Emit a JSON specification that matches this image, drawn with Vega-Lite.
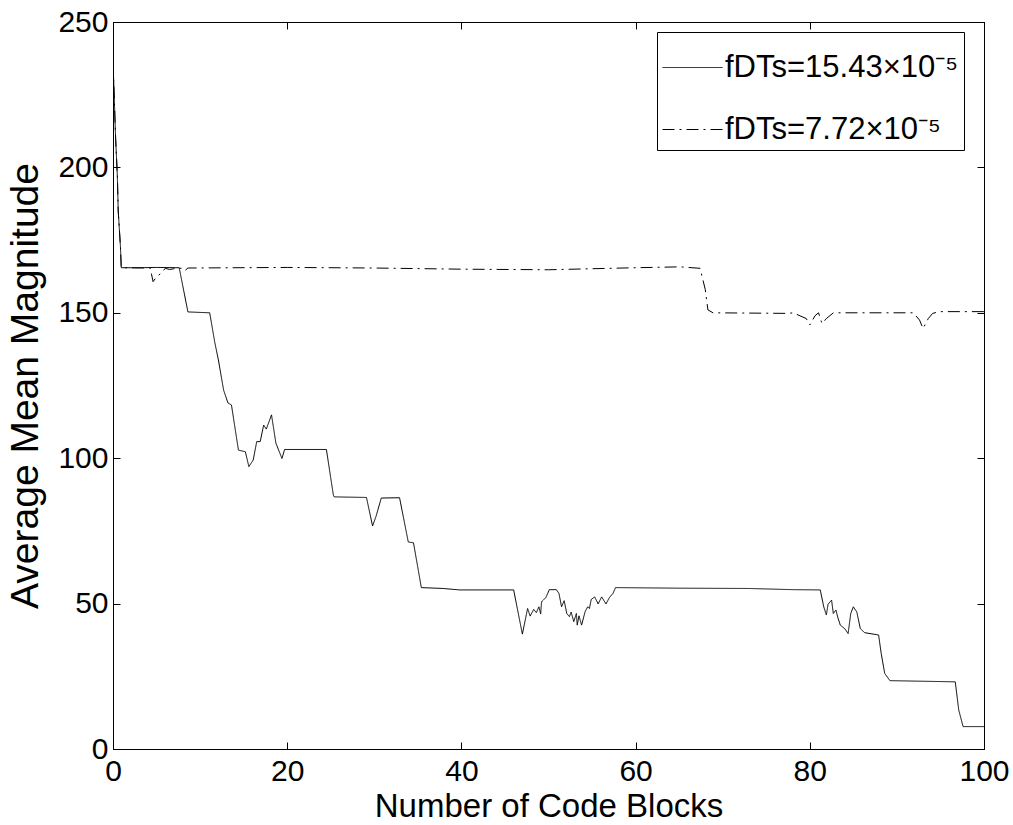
{
  "$schema": "https://vega.github.io/schema/vega-lite/v6.json",
  "width": 871,
  "height": 727,
  "autosize": {"type": "none"},
  "padding": {"left": 113, "top": 22, "right": 29, "bottom": 76},
  "background": "white",
  "config": {
    "view": {"stroke": "black", "strokeWidth": 1},
    "font": "Liberation Sans",
    "axis": {
      "grid": false,
      "domainColor": "black",
      "tickColor": "black",
      "labelColor": "black",
      "titleColor": "black",
      "labelFont": "Liberation Sans",
      "titleFont": "Liberation Sans",
      "labelFontSize": 30,
      "titleFontSize": 33,
      "titleFontWeight": "normal",
      "tickSize": -7
    }
  },
  "datasets": {
    "curves": [
      {"x": 0, "y": 236, "s": "A"}, {"x": 0.1, "y": 228, "s": "A"}, {"x": 0.3, "y": 210, "s": "A"}, {"x": 0.5, "y": 197, "s": "A"}, {"x": 0.6, "y": 185, "s": "A"}, {"x": 0.85, "y": 173, "s": "A"}, {"x": 0.95, "y": 165.5, "s": "A"}, {"x": 3, "y": 165.5, "s": "A"}, {"x": 5, "y": 165.6, "s": "A"}, {"x": 7.6, "y": 165.5, "s": "A"}, {"x": 8.6, "y": 150.3, "s": "A"}, {"x": 11.1, "y": 150, "s": "A"}, {"x": 11.7, "y": 139.6, "s": "A"}, {"x": 12.1, "y": 133.8, "s": "A"}, {"x": 12.7, "y": 123.4, "s": "A"}, {"x": 13.2, "y": 119, "s": "A"}, {"x": 13.6, "y": 118.3, "s": "A"}, {"x": 14.4, "y": 102.8, "s": "A"}, {"x": 15.2, "y": 102.2, "s": "A"}, {"x": 15.6, "y": 97.1, "s": "A"}, {"x": 16.1, "y": 99.4, "s": "A"}, {"x": 16.5, "y": 105.7, "s": "A"}, {"x": 16.9, "y": 105.7, "s": "A"}, {"x": 17.3, "y": 111.4, "s": "A"}, {"x": 17.6, "y": 110, "s": "A"}, {"x": 18.2, "y": 114.9, "s": "A"}, {"x": 18.7, "y": 105.2, "s": "A"}, {"x": 19.4, "y": 99.9, "s": "A"}, {"x": 19.7, "y": 103, "s": "A"}, {"x": 24.5, "y": 103, "s": "A"}, {"x": 25.3, "y": 87.3, "s": "A"}, {"x": 25.4, "y": 86.7, "s": "A"}, {"x": 29.1, "y": 86.5, "s": "A"}, {"x": 29.8, "y": 76.7, "s": "A"}, {"x": 30.2, "y": 80, "s": "A"}, {"x": 30.8, "y": 86.3, "s": "A"}, {"x": 32.9, "y": 86.4, "s": "A"}, {"x": 33.9, "y": 71.2, "s": "A"}, {"x": 34.5, "y": 70.9, "s": "A"}, {"x": 35.4, "y": 55.5, "s": "A"}, {"x": 37.9, "y": 55.2, "s": "A"}, {"x": 39.8, "y": 54.7, "s": "A"}, {"x": 46, "y": 54.7, "s": "A"}, {"x": 47.0, "y": 39.5, "s": "A"}, {"x": 47.6, "y": 48.3, "s": "A"}, {"x": 47.9, "y": 45.7, "s": "A"}, {"x": 48.3, "y": 48, "s": "A"}, {"x": 48.6, "y": 46.9, "s": "A"}, {"x": 48.9, "y": 48.9, "s": "A"}, {"x": 49.1, "y": 46.4, "s": "A"}, {"x": 49.2, "y": 50.6, "s": "A"}, {"x": 49.7, "y": 52.1, "s": "A"}, {"x": 50.1, "y": 54.8, "s": "A"}, {"x": 50.9, "y": 54.8, "s": "A"}, {"x": 51.2, "y": 53.5, "s": "A"}, {"x": 51.5, "y": 48.9, "s": "A"}, {"x": 51.8, "y": 51, "s": "A"}, {"x": 52.1, "y": 46.6, "s": "A"}, {"x": 52.4, "y": 45.5, "s": "A"}, {"x": 52.6, "y": 47.1, "s": "A"}, {"x": 52.9, "y": 43.8, "s": "A"}, {"x": 53.2, "y": 46.6, "s": "A"}, {"x": 53.3, "y": 42.6, "s": "A"}, {"x": 53.5, "y": 45.8, "s": "A"}, {"x": 53.8, "y": 42.6, "s": "A"}, {"x": 54.2, "y": 47.2, "s": "A"}, {"x": 54.5, "y": 48.9, "s": "A"}, {"x": 54.7, "y": 48.3, "s": "A"}, {"x": 54.9, "y": 51.4, "s": "A"}, {"x": 55.3, "y": 52.3, "s": "A"}, {"x": 55.7, "y": 49.9, "s": "A"}, {"x": 56.1, "y": 52.3, "s": "A"}, {"x": 56.6, "y": 49.9, "s": "A"}, {"x": 57.0, "y": 52.1, "s": "A"}, {"x": 57.4, "y": 53.5, "s": "A"}, {"x": 57.7, "y": 55.5, "s": "A"}, {"x": 65, "y": 55.3, "s": "A"}, {"x": 73, "y": 55.2, "s": "A"}, {"x": 78, "y": 54.8, "s": "A"}, {"x": 81.2, "y": 54.7, "s": "A"}, {"x": 81.6, "y": 48.9, "s": "A"}, {"x": 81.9, "y": 46.1, "s": "A"}, {"x": 82.1, "y": 49.8, "s": "A"}, {"x": 82.5, "y": 51.2, "s": "A"}, {"x": 82.7, "y": 46.6, "s": "A"}, {"x": 83.0, "y": 47.8, "s": "A"}, {"x": 83.2, "y": 45.4, "s": "A"}, {"x": 83.5, "y": 42.6, "s": "A"}, {"x": 84.0, "y": 41.4, "s": "A"}, {"x": 84.4, "y": 39.7, "s": "A"}, {"x": 84.7, "y": 46.6, "s": "A"}, {"x": 85.0, "y": 48.9, "s": "A"}, {"x": 85.4, "y": 47.1, "s": "A"}, {"x": 85.8, "y": 41.4, "s": "A"}, {"x": 86.3, "y": 40, "s": "A"}, {"x": 87.9, "y": 39.2, "s": "A"}, {"x": 88.2, "y": 32.8, "s": "A"}, {"x": 88.6, "y": 26, "s": "A"}, {"x": 89.2, "y": 23.5, "s": "A"}, {"x": 96.7, "y": 23.1, "s": "A"}, {"x": 97.1, "y": 13.4, "s": "A"}, {"x": 97.6, "y": 7.7, "s": "A"}, {"x": 100, "y": 7.7, "s": "A"},
      {"x": 0, "y": 236, "s": "B"}, {"x": 0.1, "y": 228, "s": "B"}, {"x": 0.3, "y": 210, "s": "B"}, {"x": 0.5, "y": 197, "s": "B"}, {"x": 0.6, "y": 185, "s": "B"}, {"x": 0.85, "y": 173, "s": "B"}, {"x": 0.95, "y": 165.5, "s": "B"}, {"x": 4.3, "y": 165.4, "s": "B"}, {"x": 4.4, "y": 163.6, "s": "B"}, {"x": 4.6, "y": 160.7, "s": "B"}, {"x": 5.0, "y": 162.4, "s": "B"}, {"x": 5.6, "y": 163.8, "s": "B"}, {"x": 6.0, "y": 165.3, "s": "B"}, {"x": 6.5, "y": 164.9, "s": "B"}, {"x": 7.3, "y": 165.3, "s": "B"}, {"x": 8.1, "y": 165.3, "s": "B"}, {"x": 8.3, "y": 164.6, "s": "B"}, {"x": 8.6, "y": 165.4, "s": "B"}, {"x": 20, "y": 165.6, "s": "B"}, {"x": 30, "y": 165.4, "s": "B"}, {"x": 40, "y": 165, "s": "B"}, {"x": 50, "y": 164.8, "s": "B"}, {"x": 60, "y": 165.5, "s": "B"}, {"x": 65.1, "y": 165.8, "s": "B"}, {"x": 67.4, "y": 165.3, "s": "B"}, {"x": 68, "y": 158, "s": "B"}, {"x": 68.3, "y": 151, "s": "B"}, {"x": 68.9, "y": 150, "s": "B"}, {"x": 77.5, "y": 149.8, "s": "B"}, {"x": 78.1, "y": 150, "s": "B"}, {"x": 79.6, "y": 148, "s": "B"}, {"x": 80.0, "y": 145.8, "s": "B"}, {"x": 80.6, "y": 149, "s": "B"}, {"x": 81.0, "y": 150, "s": "B"}, {"x": 81.4, "y": 146.3, "s": "B"}, {"x": 81.9, "y": 148, "s": "B"}, {"x": 82.7, "y": 150, "s": "B"}, {"x": 91.9, "y": 150, "s": "B"}, {"x": 92.6, "y": 147.5, "s": "B"}, {"x": 93.0, "y": 144.6, "s": "B"}, {"x": 93.6, "y": 148, "s": "B"}, {"x": 94.1, "y": 149.8, "s": "B"}, {"x": 94.9, "y": 150.4, "s": "B"}, {"x": 100, "y": 150.4, "s": "B"}
    ]
  },
  "data": {"name": "curves"},
  "transform": [
    {"calculate": "datum.s === 'A' ? 'fDTs=15.43×10⁻⁵' : 'fDTs=7.72×10⁻⁵'", "as": "series"}
  ],
  "layer": [
    {
      "mark": {"type": "line", "color": "black", "strokeWidth": 1, "clip": true},
      "encoding": {
        "x": {"field": "x", "type": "quantitative", "scale": {"domain": [0, 100], "nice": false},
              "axis": {"orient": "bottom", "values": [0, 20, 40, 60, 80, 100], "title": "Number of Code Blocks", "labelPadding": 14, "titlePadding": 4, "labelFlush": false}},
        "y": {"field": "y", "type": "quantitative", "scale": {"domain": [0, 250], "nice": false},
              "axis": {"orient": "left", "values": [0, 50, 100, 150, 200, 250], "title": "Average Mean Magnitude", "titleFontSize": 39, "labelPadding": 12, "titlePadding": 12, "labelFlush": false}},
        "strokeDash": {"field": "series", "type": "nominal",
          "scale": {"domain": ["fDTs=15.43×10⁻⁵", "fDTs=7.72×10⁻⁵"], "range": [[1, 0], [12, 5, 2, 5]]},
          "legend": {"title": null, "orient": "none", "legendX": 544, "legendY": 10,
            "symbolType": "stroke", "symbolSize": 3600, "symbolStrokeWidth": 1, "symbolStrokeColor": "black",
            "labelFontSize": 31, "labelFont": "Liberation Sans", "labelColor": "black", "labelOffset": 2,
            "strokeColor": "black", "fillColor": "white", "padding": 5, "rowPadding": 16, "labelLimit": 400}},
        "detail": {"field": "s"}
      }
    },
    {
      "mark": {"type": "line", "strokeOpacity": 0},
      "encoding": {
        "x": {"field": "x", "type": "quantitative", "axis": {"orient": "top", "values": [0, 20, 40, 60, 80, 100], "labels": false, "title": null}},
        "y": {"field": "y", "type": "quantitative", "axis": {"orient": "right", "values": [0, 50, 100, 150, 200, 250], "labels": false, "title": null}},
        "detail": {"field": "s"}
      }
    }
  ],
  "resolve": {"axis": {"x": "independent", "y": "independent"}}
}
